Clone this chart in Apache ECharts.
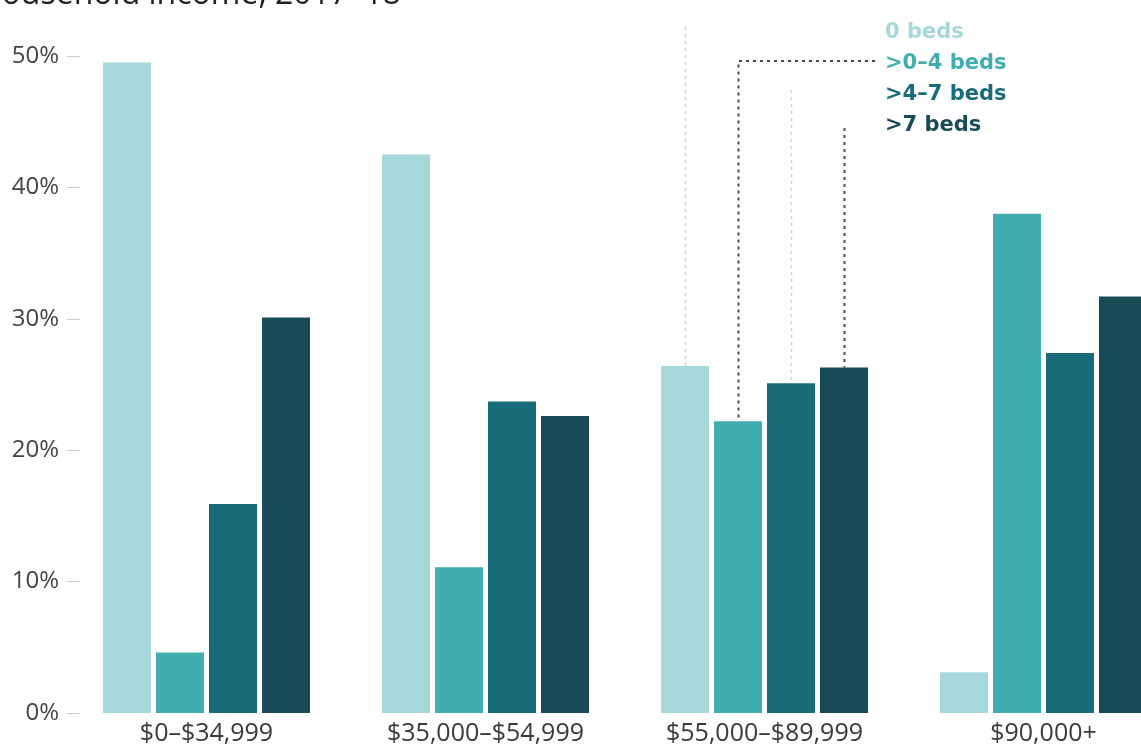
<!DOCTYPE html>
<html><head><meta charset="utf-8">
<script src="https://cdn.jsdelivr.net/npm/echarts@6/dist/echarts.min.js"></script>
<style>html,body{margin:0;padding:0;background:#fff;overflow:hidden}#c{width:1141px;height:744px}</style>
</head><body><div id="c"></div>
<script>
const titleText = 'Household income, 2017–18';
const categories = ['$0–$34,999', '$35,000–$54,999', '$55,000–$89,999', '$90,000+'];
const seriesNames = ['0 beds', '>0–4 beds', '>4–7 beds', '>7 beds'];
const beds0 = [49.5, 42.5, 26.4, 3.1];
const beds0to4 = [4.6, 11.1, 22.2, 38.0];
const beds4to7 = [15.9, 23.7, 25.1, 27.4];
const beds7plus = [30.1, 22.6, 26.3, 31.7];
const yMin = 0, yMax = 50, yStep = 10;

const colors = ['#a6d8da', '#41adae', '#186c7a', '#174b56'];
const seriesValues = [beds0, beds0to4, beds4to7, beds7plus];
const leaderCategory = 2;
// layout of leader lines (pixel tops near legend labels)
const leaderTop = [27, 61, 90, 128];
const leaderRightX = 875;
const leaderStyles = [
  {stroke: '#cfcfcf', lineWidth: 1.5, lineDash: [3, 4]},
  {stroke: '#4a4a4a', lineWidth: 2, lineDash: [3, 4]},
  {stroke: '#cfcfcf', lineWidth: 1.5, lineDash: [3, 4]},
  {stroke: '#4a4a4a', lineWidth: 2, lineDash: [3, 4]}
];

const chart = echarts.init(document.getElementById('c'), null, {renderer: 'canvas'});
const font = 'Open Sans';
chart.setOption({
  animation: false,
  backgroundColor: '#fff',
  title: {
    text: titleText, left: -22, top: -21, padding: 0,
    textStyle: {fontFamily: font, fontSize: 32, fontWeight: 'normal', color: '#222'}
  },
  legend: {
    orient: 'vertical', left: 880, top: 22, padding: 0, itemGap: 10,
    itemWidth: 0, itemHeight: 14, icon: 'none', selectedMode: false,
    data: seriesNames.map((n, i) => ({name: n, textStyle: {color: colors[i]}})),
    textStyle: {fontFamily: 'DejaVu Sans', fontSize: 21, fontWeight: 'bold'}
  },
  grid: {left: 67, top: 56, width: 1116, bottom: 31, containLabel: false, outerBoundsMode: 'none'},
  xAxis: {
    type: 'category', data: categories,
    axisLine: {show: false}, axisTick: {show: false},
    axisLabel: {fontFamily: font, fontSize: 25, color: '#3a3a3a', margin: 8, interval: 0}
  },
  yAxis: {
    type: 'value', min: yMin, max: yMax, interval: yStep,
    axisLine: {show: false}, splitLine: {show: false},
    axisTick: {show: true, inside: true, length: 13, lineStyle: {color: '#cccccc', width: 1}},
    axisLabel: {fontFamily: font, fontSize: 24, color: '#444', margin: 8, formatter: v => v + '%'}
  },
  series: seriesNames.map((n, i) => ({
    name: n, type: 'bar', data: seriesValues[i],
    barWidth: 48, barGap: '10.4%',
    itemStyle: {color: colors[i]}
  }))
});

// leader lines from legend labels to bars in the chosen category
const graphics = [];
for (let i = 0; i < 4; i++) {
  const data = chart.getModel().getSeriesByIndex(i).getData();
  const lay = data.getItemLayout(leaderCategory);
  const cx = Math.round(lay.x + lay.width / 2) + 0.5;
  const top = Math.min(lay.y, lay.y + lay.height);
  const pts = i === 1
    ? [[leaderRightX, leaderTop[i]], [cx, leaderTop[i]], [cx, top]]
    : [[cx, leaderTop[i]], [cx, top]];
  graphics.push({type: 'polyline', shape: {points: pts}, style: Object.assign({fill: null}, leaderStyles[i]), z: 1, silent: true});
}
chart.setOption({graphic: graphics});
</script>
</body></html>
